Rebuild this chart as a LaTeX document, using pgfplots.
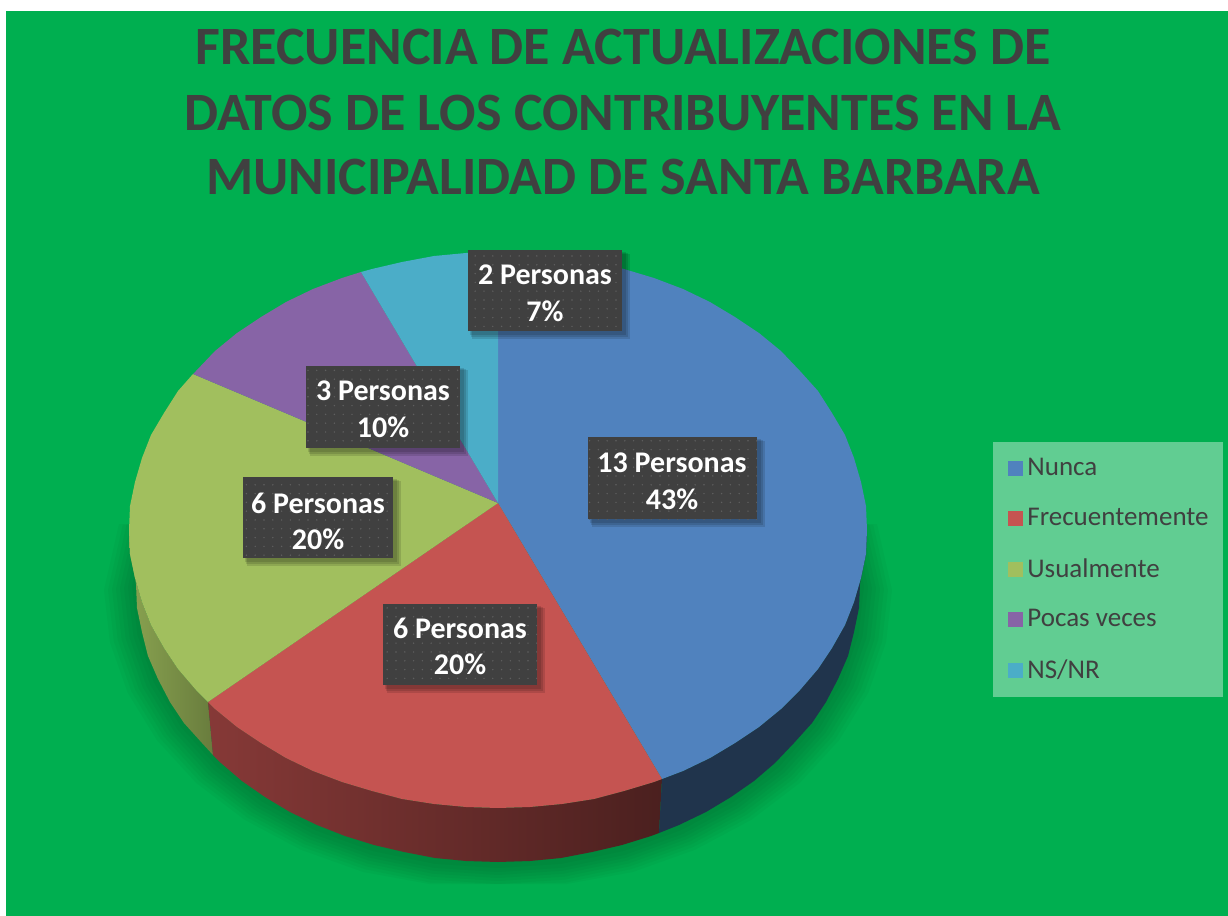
\documentclass[border=0pt]{standalone}
\usepackage{fontspec}
\setmainfont{Carlito}
\usepackage{pgfplots}
\usepackage{pgfplotstable}
\pgfplotsset{compat=1.18}
\usetikzlibrary{patterns.meta}
\definecolor{bgg}{HTML}{00AF50}
\definecolor{txt}{HTML}{404040}
\definecolor{cblue}{HTML}{5082BE}
\definecolor{cred}{HTML}{C55451}
\definecolor{cgreen}{HTML}{A1BF5E}
\definecolor{cpurple}{HTML}{8764A6}
\definecolor{cteal}{HTML}{4BADC8}
\pgfplotstableread{
sx sy
0.962 -0.22
1.000 0.000
0.985 0.174
0.940 0.342
0.866 0.500
0.766 0.643
0.643 0.766
0.500 0.866
0.342 0.940
0.174 0.985
0.000 1.000
-0.174 0.985
-0.342 0.940
-0.500 0.866
-0.643 0.766
-0.766 0.643
-0.866 0.500
-0.940 0.342
-0.985 0.174
-1.000 0.000
-0.962 -0.22
}\shadowtable
\newcommand{\shad}[3]{%
\addplot[fill=black,fill opacity=0.028,draw=none,forget plot] table[x expr={498+#1*\thisrow{sx}},y expr={min(#3+#2*\thisrow{sy},884)}] {\shadowtable} -- cycle;}
\newcommand{\lab}[9]{%
\fill[black,opacity=0.12] (axis cs:#1+2,#2+2) rectangle (axis cs:#3+4,#4+4);
\fill[black,opacity=0.12] (axis cs:#1+3,#2+3) rectangle (axis cs:#3+6,#4+6);
\fill[black,opacity=0.12] (axis cs:#1+4,#2+4) rectangle (axis cs:#3+8,#4+8);
\fill[txt] (axis cs:#1,#2) rectangle (axis cs:#3,#4);
\fill[pattern={Dots[distance=4.4pt,radius=0.4pt]},pattern color=white!16!txt] (axis cs:#1,#2) rectangle (axis cs:#3,#4);
\node[white,font=\fontsize{15}{17}\selectfont\bfseries,inner sep=0pt] at (axis cs:#5,#6) {#8};
\node[white,font=\fontsize{15}{17}\selectfont\bfseries,inner sep=0pt] at (axis cs:#5,#7) {#9};}
\begin{document}
\begin{tikzpicture}
\begin{axis}[
  scale only axis,width=614pt,height=458pt,
  xmin=0,xmax=1228,ymin=0,ymax=916,y dir=reverse,hide axis,
  legend cell align=left,
  legend image code/.code={\path (0pt,0pt); \fill[#1,draw=none] (2.5pt,-3.75pt) rectangle (10pt,3.75pt);},
  legend style={at={(axis cs:993,442)},anchor=north west,fill=white!38!bgg,fill opacity=1,draw=none,
    font=\fontsize{13.5}{15}\selectfont,text=txt,row sep=10.8pt,inner xsep=5pt,inner ysep=6pt},
]
\fill[white] (axis cs:0,0) rectangle (axis cs:1228,916);
\fill[bgg] (axis cs:6,11) rectangle (axis cs:1228,916);
% soft shadow under the pie
\shad{394}{300}{590}
\shad{390}{297}{590}
\shad{386}{295}{589}
\shad{382}{292}{589}
\shad{378}{290}{588}
\shad{374}{287}{588}
\shad{370}{285}{587}
\shad{366}{282}{586}
% side walls
\addplot[draw=none,forget plot,left color=cgreen!85!black,right color=cgreen!65!black] coordinates {
(129,530)(130,554)(135,578)(142,602)(151,625)(164,648)(178,669)(196,690)(208,702)
(213,755)(202,743)(184,723)(170,702)(158,679)(148,656)(142,632)(137,608)(136,584)} -- cycle;
\addplot[draw=none,forget plot,left color=cred!68!black,middle color=cred!46!black,right color=cred!38!black] coordinates {
(208,702)(215,709)(237,727)(261,743)(286,758)(313,771)(342,782)(372,791)(402,799)(434,804)(466,807)(498,808)(530,807)(562,804)(594,799)(624,791)(654,782)(662,779)
(659,833)(651,836)(622,845)(592,852)(561,858)(530,861)(498,862)(466,861)(435,858)(404,852)(374,845)(345,836)(317,825)(290,812)(265,797)(242,781)(221,763)(213,755)} -- cycle;
\addplot[fill=cblue!40!black,draw=none,forget plot] coordinates {
(662,779)(683,771)(710,758)(735,743)(759,727)(781,709)(800,690)(818,669)(832,648)(845,625)(854,602)(861,578)(866,554)(867,530)
(860,584)(859,608)(854,632)(848,656)(838,679)(826,702)(812,723)(794,743)(775,763)(754,781)(731,797)(706,812)(679,825)(659,833)} -- cycle;
% top faces
\addplot[fill=cblue,draw=none] coordinates {(498,503)(498,252)(530,253)(562,256)(594,262)(624,269)(654,278)(683,289)(710,302)(735,317)(759,333)(781,351)(800,371)(818,391)(832,413)(845,435)(854,458)(861,482)(866,506)(867,530)(866,554)(861,578)(854,602)(845,625)(832,648)(818,669)(800,690)(781,709)(759,727)(735,743)(710,758)(683,771)(662,779)} -- cycle;
\addlegendentry{Nunca}
\addplot[fill=cred,draw=none] coordinates {(498,503)(662,779)(654,782)(624,791)(594,799)(562,804)(530,807)(498,808)(466,807)(434,804)(402,799)(372,791)(342,782)(313,771)(286,758)(261,743)(237,727)(215,709)(208,702)} -- cycle;
\addlegendentry{Frecuentemente}
\addplot[fill=cgreen,draw=none] coordinates {(498,503)(208,702)(196,690)(178,669)(164,648)(151,625)(142,602)(135,578)(130,554)(129,530)(130,506)(135,482)(142,458)(151,435)(164,413)(178,391)(193,374)} -- cycle;
\addlegendentry{Usualmente}
\addplot[fill=cpurple,draw=none] coordinates {(498,503)(193,374)(196,371)(215,351)(237,333)(261,317)(286,302)(313,289)(342,278)(361,272)} -- cycle;
\addlegendentry{Pocas veces}
\addplot[fill=cteal,draw=none] coordinates {(498,503)(361,272)(372,269)(402,262)(434,256)(466,253)(498,252)} -- cycle;
\addlegendentry{NS/NR}
% data labels
\lab{468}{250}{622}{331}{545}{275}{311}{2 Personas}{7\%}
\lab{306}{366}{460}{448}{383}{391}{427}{3 Personas}{10\%}
\lab{588}{437}{757}{519}{672}{463}{499}{13 Personas}{43\%}
\lab{243}{477}{393}{558}{318}{503}{539}{6 Personas}{20\%}
\lab{383}{604}{537}{685}{460}{628}{664}{6 Personas}{20\%}
% title
\node[txt,font=\fontsize{27}{30}\selectfont\bfseries,inner sep=0pt] at (axis cs:623,47) {FRECUENCIA DE ACTUALIZACIONES DE};
\node[txt,font=\fontsize{27}{30}\selectfont\bfseries,inner sep=0pt] at (axis cs:623,113) {DATOS DE LOS CONTRIBUYENTES EN LA};
\node[txt,font=\fontsize{27}{30}\selectfont\bfseries,inner sep=0pt] at (axis cs:623,177) {MUNICIPALIDAD DE SANTA BARBARA};
\end{axis}
\end{tikzpicture}
\end{document}
